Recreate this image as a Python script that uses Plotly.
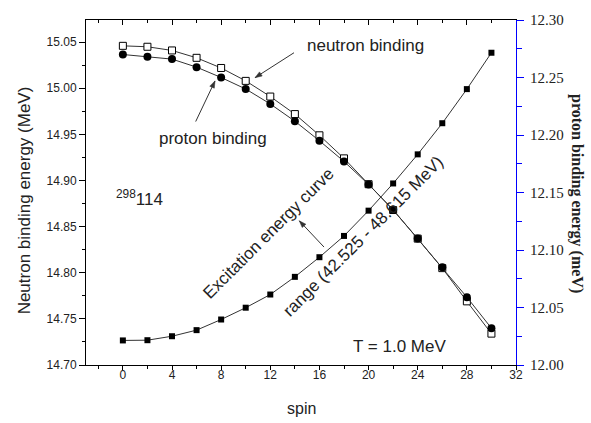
import math
import plotly.graph_objects as go

# ---- data ----
spin = [0, 2, 4, 6, 8, 10, 12, 14, 16, 18, 20, 22, 24, 26, 28, 30]
neutron_binding = [15.046, 15.045, 15.041, 15.033, 15.022, 15.008, 14.991, 14.972,
                   14.949, 14.924, 14.896, 14.868, 14.837, 14.805, 14.769, 14.734]
proton_binding = [12.270, 12.268, 12.266, 12.259, 12.250, 12.240, 12.227, 12.212,
                  12.195, 12.177, 12.157, 12.135, 12.110, 12.085, 12.059, 12.032]
excitation_energy = [42.525, 42.530, 42.614, 42.743, 42.968, 43.218, 43.497, 43.871,
                     44.287, 44.737, 45.272, 45.848, 46.464, 47.123, 47.845, 48.615]

x_ticks = [0, 4, 8, 12, 16, 20, 24, 28, 32]
left_ticks = [14.70, 14.75, 14.80, 14.85, 14.90, 14.95, 15.00, 15.05]
right_ticks = [12.00, 12.05, 12.10, 12.15, 12.20, 12.25, 12.30]

SANS = "Liberation Sans, Arial, sans-serif"
SERIF = "Liberation Serif, Times New Roman, serif"
TXT = "#222222"
LINE = "#333333"

# plot-area geometry (pixels) used to place labels
L, R, T, B = 86, 516, 14, 365


def px(xp):
    return (xp - L) / (R - L)


def py(yp):
    return (B - yp) / (B - T)


fig = go.Figure()

fig.add_trace(go.Scatter(
    x=spin, y=neutron_binding, mode="lines+markers", yaxis="y",
    line=dict(color=LINE, width=1),
    marker=dict(symbol="square", size=7, color="white", line=dict(color="black", width=1)),
    showlegend=False))

fig.add_trace(go.Scatter(
    x=spin, y=proton_binding, mode="lines+markers", yaxis="y2",
    line=dict(color=LINE, width=1),
    marker=dict(symbol="circle", size=8, color="black"),
    showlegend=False))

fig.add_trace(go.Scatter(
    x=spin, y=excitation_energy, mode="lines+markers", yaxis="y3",
    line=dict(color=LINE, width=1),
    marker=dict(symbol="square", size=6, color="black"),
    showlegend=False))

# dummy trace on top axis so it renders
fig.add_trace(go.Scatter(x=[None], y=[None], xaxis="x2", yaxis="y", showlegend=False))

fig.update_layout(
    width=591, height=423,
    margin=dict(l=L, r=591 - R, t=T, b=423 - B),
    paper_bgcolor="white", plot_bgcolor="white",
    font=dict(family=SANS, color=TXT),
    xaxis=dict(
        range=[-3, 32], tickvals=x_ticks, ticks="outside", ticklen=4, tickcolor="black",
        showline=True, linecolor="black", linewidth=1, showgrid=False, zeroline=False,
        tickfont=dict(family=SANS, size=12, color=TXT), ticklabelstandoff=-5,
        minor=dict(dtick=2, tick0=0, ticks="outside", ticklen=3, tickcolor="black"),
    ),
    xaxis2=dict(
        range=[-3, 32], overlaying="x", side="top", tickvals=x_ticks, ticks="inside",
        ticklen=5, tickcolor="black", showticklabels=False, showline=True,
        linecolor="black", linewidth=1, showgrid=False, zeroline=False,
        minor=dict(dtick=2, tick0=0, ticks="inside", ticklen=3, tickcolor="black"),
    ),
    yaxis=dict(
        range=[14.70, 15.074], tickvals=left_ticks, tickformat=".2f",
        ticks="outside", ticklen=6, tickcolor="black",
        showline=True, linecolor="black", linewidth=1, showgrid=False, zeroline=False,
        tickfont=dict(family=SANS, size=12, color=TXT),
        minor=dict(dtick=0.025, tick0=14.70, ticks="outside", ticklen=3, tickcolor="black"),
    ),
    yaxis2=dict(
        range=[12.00, 12.30], overlaying="y", side="right", tickvals=right_ticks,
        tickformat=".2f", ticks="outside", ticklen=7, tickcolor="blue",
        showline=True, linecolor="blue", linewidth=1, showgrid=False, zeroline=False,
        tickfont=dict(family=SERIF, size=15, color=TXT), ticklabelstandoff=3,
        minor=dict(dtick=0.025, tick0=12.0, ticks="outside", ticklen=5, tickcolor="blue"),
    ),
    yaxis3=dict(
        range=[42.005, 49.308], overlaying="y", visible=False,
    ),
)


def label(text, cx, cy, size=17, family=SANS, angle=0, xanchor="center"):
    return dict(text=text, xref="paper", yref="paper", x=px(cx), y=py(cy),
                xanchor=xanchor, yanchor="middle", textangle=angle, showarrow=False,
                font=dict(family=family, size=size, color=TXT))


ann = [
    label("Neutron binding energy (MeV)", 24, 197.5, angle=-90),
    label("<b>proton binding energy (meV)</b>", 577, 190, size=16, family=SERIF, angle=90),
    label("spin", 301.7, 409, size=16),
    label("neutron binding", 365, 39.7),
    label("proton binding", 213, 134.5),
    label("T = 1.0 MeV", 399, 346),
    label("<sup>298</sup>114", 114, 195, xanchor="left"),
    label("Excitation energy curve", 268.3, 230.8, angle=-45),
    label("range (42.525 - 48.615 MeV)", 363, 234, angle=-45),
]
fig.update_layout(annotations=ann)

# arrows drawn as shapes (head, tail in pixels)
shapes = []
for hx, hy, tx, ty in [(255, 72.7, 294, 47.3), (215, 76, 195.7, 117.3), (299.3, 218.3, 324, 245)]:
    shapes.append(dict(type="line", xref="paper", yref="paper",
                       x0=px(tx), y0=py(ty), x1=px(hx), y1=py(hy),
                       line=dict(color=LINE, width=1)))
    d = math.hypot(hx - tx, hy - ty)
    ux, uy = (hx - tx) / d, (hy - ty) / d
    hl, hw = 7, 2.5
    bx, by = hx - ux * hl, hy - uy * hl
    p1 = (bx - uy * hw, by + ux * hw)
    p2 = (bx + uy * hw, by - ux * hw)
    path = "M {:.4f},{:.4f} L {:.4f},{:.4f} L {:.4f},{:.4f} Z".format(
        px(hx), py(hy), px(p1[0]), py(p1[1]), px(p2[0]), py(p2[1]))
    shapes.append(dict(type="path", xref="paper", yref="paper", path=path,
                       fillcolor=LINE, line=dict(color=LINE, width=0.5)))
fig.update_layout(shapes=shapes)

fig.write_html("out.html")
